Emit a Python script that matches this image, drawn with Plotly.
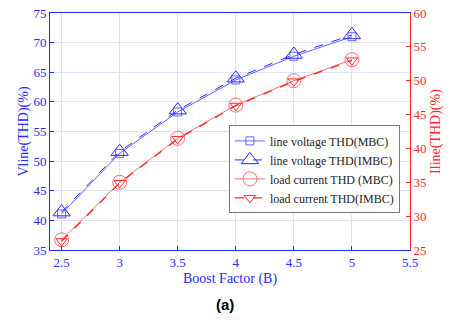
import plotly.graph_objects as go

boost = [2.5, 3, 3.5, 4, 4.5, 5]
vline_mbc = [41.1, 51.3, 58.3, 63.7, 67.7, 71.0]
vline_imbc = [41.4, 51.6, 58.6, 64.0, 68.0, 71.3]
iline_mbc = [26.5, 35.0, 41.5, 46.4, 50.0, 53.1]
iline_imbc = [26.3, 34.9, 41.4, 46.3, 49.9, 53.0]

BLUE = "rgb(40,40,255)"
LBLUE = "rgb(100,100,255)"
RED = "rgb(255,40,40)"
LRED = "rgb(255,110,110)"
SERIF = "Liberation Serif"

fig = go.Figure()
fig.add_trace(go.Scatter(x=boost, y=vline_mbc, name="line voltage THD(MBC)",
    mode="lines+markers", line=dict(color=LBLUE, width=1),
    marker=dict(symbol="square-open", size=8, color=LBLUE, line=dict(width=1))))
fig.add_trace(go.Scatter(x=boost, y=vline_imbc, name="line voltage THD(IMBC)",
    mode="lines+markers", line=dict(color=BLUE, width=1, dash="dash"),
    marker=dict(symbol="triangle-up-open", size=15, color=BLUE, line=dict(width=1))))
fig.add_trace(go.Scatter(x=boost, y=iline_mbc, name="load current THD (MBC)", yaxis="y2",
    mode="lines+markers", line=dict(color=LRED, width=1),
    marker=dict(symbol="circle-open", size=14, color=LRED, line=dict(width=1))))
fig.add_trace(go.Scatter(x=boost, y=iline_imbc, name="load current THD(IMBC)", yaxis="y2",
    mode="lines+markers", line=dict(color=RED, width=1.3, dash="dash"),
    marker=dict(symbol="triangle-down-open", size=10, color=RED, line=dict(width=1))))

fig.update_layout(
    width=450, height=320,
    margin=dict(l=50, r=40, t=13, b=70, autoexpand=False),
    plot_bgcolor="white", paper_bgcolor="white",
    font=dict(family=SERIF, size=13, color=BLUE),
    xaxis=dict(range=[2.4, 5.5], tickvals=[2.5, 3, 3.5, 4, 4.5, 5, 5.5],
        ticktext=["2.5", "3", "3.5", "4", "4.5", "5", "5.5"],
        showgrid=True, gridcolor="rgb(225,225,250)", gridwidth=1,
        showline=True, linecolor=BLUE, linewidth=1, mirror=True,
        ticks="inside", ticklen=4, tickcolor=BLUE, zeroline=False, automargin=False,
        title=dict(text="Boost Factor (B)", font=dict(family=SERIF, size=14, color=BLUE), standoff=4),
        tickfont=dict(family=SERIF, size=13, color=BLUE)),
    yaxis=dict(range=[35, 75], tickvals=[35, 40, 45, 50, 55, 60, 65, 70, 75],
        showgrid=True, gridcolor="rgb(225,225,250)", gridwidth=1,
        showline=True, linecolor=BLUE, linewidth=1,
        ticks="inside", ticklen=4, tickcolor=BLUE, zeroline=False, automargin=False,
        title=dict(text="Vline(THD)(%)", font=dict(family=SERIF, size=14, color=BLUE), standoff=1),
        tickfont=dict(family=SERIF, size=13, color=BLUE)),
    yaxis2=dict(range=[25, 60], tickvals=[25, 30, 35, 40, 45, 50, 55, 60],
        overlaying="y", side="right", showgrid=False,
        showline=True, linecolor=RED, linewidth=1,
        ticks="inside", ticklen=4, tickcolor=RED, zeroline=False, automargin=False,
        title=dict(text="Iline(THD)(%)", font=dict(family=SERIF, size=14, color=RED), standoff=4),
        tickfont=dict(family=SERIF, size=13, color=RED)),
    legend=dict(x=0.497, y=0.34, xanchor="left", yanchor="middle",
        bgcolor="white", bordercolor="rgb(120,120,120)", borderwidth=1,
        font=dict(family=SERIF, size=12, color="rgb(30,30,30)"),
        tracegroupgap=0, itemwidth=30),
    showlegend=True,
    annotations=[dict(text="<b>(a)</b>", x=0.486, y=-0.232, xref="paper", yref="paper",
        showarrow=False, font=dict(family="Liberation Sans", size=15, color="black"),
        xanchor="center", yanchor="middle")],
)

fig.write_html("out.html", config={"displayModeBar": False},
               post_script="document.body.style.margin='0';")
